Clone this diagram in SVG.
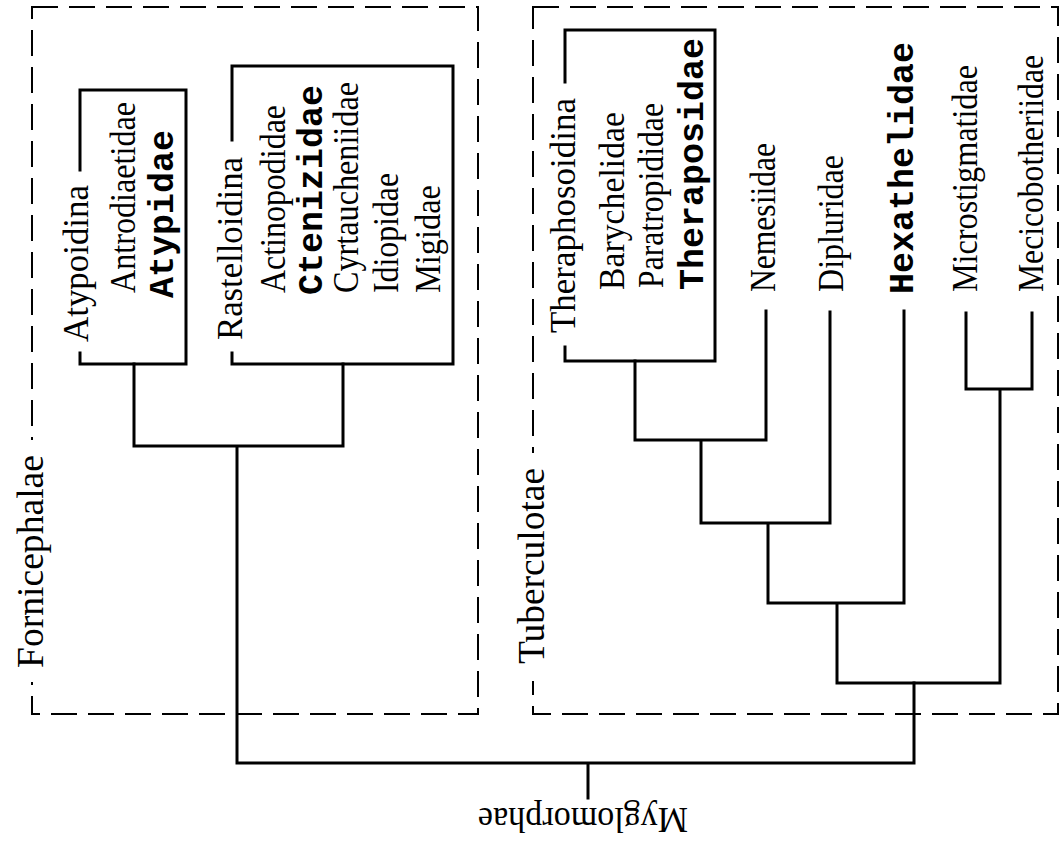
<svg xmlns="http://www.w3.org/2000/svg" width="1061" height="842" viewBox="0 0 1061 842">
<style>
.ln{fill:none;stroke:#000;stroke-width:3;stroke-linecap:square}
.dash{fill:none;stroke:#000;stroke-width:2;stroke-dasharray:26 11}
.s{font-family:"Liberation Serif","Times New Roman",serif;font-size:35px;fill:#000}
.g{font-family:"Liberation Serif","Times New Roman",serif;font-size:38px;fill:#000}
.m{font-family:"Liberation Mono","Courier New",monospace;font-size:35px;font-weight:bold;fill:#000}
</style>
<rect width="1061" height="842" fill="#fff"/>
<g id="groups">
<rect class="dash" x="32" y="7" width="446" height="707"/>
<rect class="dash" x="533" y="7" width="525" height="707"/>
<rect x="24" y="440" width="16" height="242" fill="#fff"/>
<rect x="525" y="453" width="16" height="228" fill="#fff"/>
</g>
<g id="connectors">
<path class="ln" d="M80,170 V90 H186 V364 H80 V353"/>
<path class="ln" d="M232,140 V66 H453 V364 H232 V353"/>
<path class="ln" d="M134,364 V446 H343 V364 M237,446 V763 H914 V683 M588,763 V798"/>
<path class="ln" d="M565,82 V30 H715 V361 H565 V347"/>
<path class="ln" d="M635,361 V440 H766 V311 M701,440 V523 H830 V312 M768,523 V603 H904 V311 M837,603 V683 H1000 V389 M966,313 V389 H1032 V313"/>
</g>
<g id="Fornicephalae"><text class="g" transform="translate(43,668) rotate(-90)" textLength="213" lengthAdjust="spacingAndGlyphs">Fornicephalae</text></g>
<g id="Tuberculotae"><text class="g" transform="translate(544,664) rotate(-90)" textLength="196" lengthAdjust="spacingAndGlyphs">Tuberculotae</text></g>
<g id="Atypoidina"><text class="s" transform="translate(88,342) rotate(-90)" textLength="157" lengthAdjust="spacingAndGlyphs">Atypoidina</text></g>
<g id="Antrodiaetidae"><text class="s" transform="translate(135,293) rotate(-90)" textLength="191" lengthAdjust="spacingAndGlyphs">Antrodiaetidae</text></g>
<g id="Atypidae"><text class="m" transform="translate(173,298) rotate(-90)">Atypidae</text></g>
<g id="Rastelloidina"><text class="s" transform="translate(242,340) rotate(-90)" textLength="183" lengthAdjust="spacingAndGlyphs">Rastelloidina</text></g>
<g id="Actinopodidae"><text class="s" transform="translate(285,293) rotate(-90)" textLength="188" lengthAdjust="spacingAndGlyphs">Actinopodidae</text></g>
<g id="Ctenizidae"><text class="m" transform="translate(322,295) rotate(-90)">Ctenizidae</text></g>
<g id="Cyrtaucheniidae"><text class="s" transform="translate(358,293) rotate(-90)" textLength="211" lengthAdjust="spacingAndGlyphs">Cyrtaucheniidae</text></g>
<g id="Idiopidae"><text class="s" transform="translate(398,293) rotate(-90)" textLength="120" lengthAdjust="spacingAndGlyphs">Idiopidae</text></g>
<g id="Migidae"><text class="s" transform="translate(440,293) rotate(-90)" textLength="108" lengthAdjust="spacingAndGlyphs">Migidae</text></g>
<g id="Theraphosoidina"><text class="s" transform="translate(575,333) rotate(-90)" textLength="235" lengthAdjust="spacingAndGlyphs">Theraphosoidina</text></g>
<g id="Barychelidae"><text class="s" transform="translate(624,290) rotate(-90)" textLength="178" lengthAdjust="spacingAndGlyphs">Barychelidae</text></g>
<g id="Paratropididae"><text class="s" transform="translate(663,288) rotate(-90)" textLength="185" lengthAdjust="spacingAndGlyphs">Paratropididae</text></g>
<g id="Theraposidae"><text class="m" transform="translate(703,290) rotate(-90)">Theraposidae</text></g>
<g id="Nemesiidae"><text class="s" transform="translate(775,292) rotate(-90)" textLength="149" lengthAdjust="spacingAndGlyphs">Nemesiidae</text></g>
<g id="Dipluridae"><text class="s" transform="translate(843,292) rotate(-90)" textLength="137" lengthAdjust="spacingAndGlyphs">Dipluridae</text></g>
<g id="Hexathelidae"><text class="m" transform="translate(913,294) rotate(-90)">Hexathelidae</text></g>
<g id="Microstigmatidae"><text class="s" transform="translate(977,292) rotate(-90)" textLength="227" lengthAdjust="spacingAndGlyphs">Microstigmatidae</text></g>
<g id="Mecicobotheriidae"><text class="s" transform="translate(1043,292) rotate(-90)" textLength="237" lengthAdjust="spacingAndGlyphs">Mecicobotheriidae</text></g>
<g id="Myglomorphae"><text class="s" transform="translate(583,808) rotate(180)" text-anchor="middle" textLength="210" lengthAdjust="spacingAndGlyphs">Myglomorphae</text></g>
</svg>
